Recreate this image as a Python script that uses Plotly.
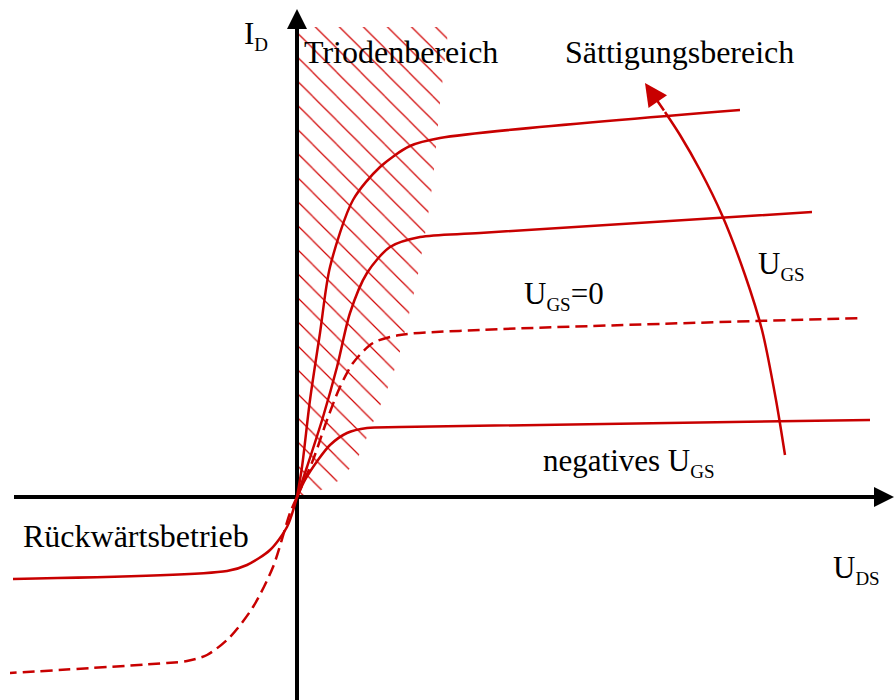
import plotly.graph_objects as go

# Output characteristics of a depletion-mode FET (schematic units)
# Each curve: U_DS values and matching I_D values
top_uds = [0, 0.05, 0.13, 0.23, 0.33, 0.56, 0.83, 1.13, 1.43, 4.43]
top_id = [0, 0.30, 0.97, 1.64, 2.30, 2.97, 3.30, 3.51, 3.59, 3.87]

mid_uds = [0, 0.10, 0.26, 0.40, 0.53, 0.70, 0.93, 1.23, 1.83, 5.15]
mid_id = [0, 0.30, 0.80, 1.30, 1.84, 2.24, 2.50, 2.60, 2.64, 2.85]

zero_uds = [0, 0.16, 0.30, 0.43, 0.56, 0.76, 1.03, 1.83, 5.65]
zero_id = [0, 0.37, 0.77, 1.10, 1.34, 1.54, 1.62, 1.67, 1.79]

neg_uds = [0, 0.08, 0.21, 0.33, 0.50, 0.70, 1.03, 5.73]
neg_id = [0, 0.17, 0.37, 0.52, 0.64, 0.69, 0.70, 0.77]

# Reverse operation (U_DS < 0)
rev_uds = [0, -0.10, -0.27, -0.50, -0.70, -2.84]
rev_id = [0, -0.30, -0.53, -0.68, -0.74, -0.82]

rev0_uds = [0, -0.07, -0.24, -0.44, -0.67, -0.90, -1.10, -1.30, -2.87]
rev0_id = [0, -0.16, -0.70, -1.10, -1.40, -1.58, -1.64, -1.66, -1.76]

# Boundary of the triode (ohmic) region
tri_uds = [0, 0.13, 0.43, 0.60, 0.70, 0.80, 0.90, 1.00, 1.10, 1.20, 1.30, 1.36, 1.43, 1.50, 1.51, 0, 0]
tri_id = [0, 0.01, 0.17, 0.37, 0.60, 0.84, 1.07, 1.34, 1.74, 2.17, 2.74, 3.17, 3.94, 4.55, 4.70, 4.70, 0]

# Increasing U_GS direction arrow (last point is the tip)
arr_uds = [4.88, 4.79, 4.65, 4.48, 4.25, 4.03, 3.83, 3.68, 3.48]
arr_id = [0.42, 0.97, 1.67, 2.22, 2.82, 3.27, 3.62, 3.85, 4.14]

# Axis extents (start, tip)
uds_axis = [-2.83, 5.97]
id_axis = [-2.03, 4.88]

X_RANGE = [-2.97, 5.99]
Y_RANGE = [-2.03, 4.97]

RED = "#c80000"
FONT = "'Liberation Serif', 'Times New Roman', Times, serif"
SUB = "<sub><span style='font-size:19px'>{}</span></sub>"

fig = go.Figure()

# hatched triode region
fig.add_trace(go.Scatter(
    x=tri_uds, y=tri_id, mode="none", fill="toself",
    fillcolor="rgba(0,0,0,0)",
    fillpattern=dict(shape="\\", size=17, solidity=0.07, fgopacity=1,
                     fgcolor="#d00000", bgcolor="rgba(0,0,0,0)"),
    hoverinfo="skip",
))

# coordinate axes (shafts)
fig.add_trace(go.Scatter(x=uds_axis[:1] + [uds_axis[1] - 0.1], y=[0, 0], mode="lines",
                         line=dict(color="black", width=4), hoverinfo="skip"))
fig.add_trace(go.Scatter(x=[0, 0], y=id_axis[:1] + [id_axis[1] - 0.1], mode="lines",
                         line=dict(color="black", width=4), hoverinfo="skip"))

solid = dict(color=RED, width=2.5, shape="spline", smoothing=0.8)
dashed = dict(color=RED, width=2.5, shape="spline", smoothing=0.8, dash="12px,6px")

for xs, ys, ln in [
    (top_uds, top_id, solid),
    (mid_uds, mid_id, solid),
    (zero_uds, zero_id, dashed),
    (neg_uds, neg_id, solid),
    (rev_uds, rev_id, solid),
    (rev0_uds, rev0_id, dashed),
]:
    fig.add_trace(go.Scatter(x=xs, y=ys, mode="lines", line=ln, hoverinfo="skip"))

# U_GS arrow shaft
fig.add_trace(go.Scatter(x=arr_uds[:-1], y=arr_id[:-1], mode="lines", line=solid,
                         hoverinfo="skip"))

# arrowheads
annotations = [
    dict(x=uds_axis[1], y=0, ax=uds_axis[1] - 0.25, ay=0, arrowcolor="black",
         arrowwidth=4, arrowhead=2, arrowsize=1),
    dict(x=0, y=id_axis[1], ax=0, ay=id_axis[1] - 0.3, arrowcolor="black",
         arrowwidth=4, arrowhead=2, arrowsize=1),
    dict(x=arr_uds[-1], y=arr_id[-1], ax=arr_uds[-2], ay=arr_id[-2],
         arrowcolor=RED, arrowwidth=2.5, arrowhead=2, arrowsize=1.8),
]
for a in annotations:
    a.update(xref="x", yref="y", axref="x", ayref="y", text="", showarrow=True)

labels = [
    ("I" + SUB.format("D"), -0.55, 4.62, 31),
    ("Triodenbereich", 0.05, 4.45, 32),
    ("Sättigungsbereich", 2.66, 4.45, 32),
    ("U" + SUB.format("GS"), 4.59, 2.32, 31),
    ("U" + SUB.format("GS") + "=0", 2.25, 2.02, 31),
    ("negatives U" + SUB.format("GS"), 2.44, 0.35, 31),
    ("Rückwärtsbetrieb", -2.76, -0.39, 32),
    ("U" + SUB.format("DS"), 5.34, -0.72, 31),
]
for text, x, y, size in labels:
    annotations.append(dict(
        x=x, y=y, xref="x", yref="y", text=text, showarrow=False,
        xanchor="left", yanchor="middle",
        font=dict(family=FONT, size=size, color="black"),
    ))

fig.update_layout(
    width=896, height=700,
    margin=dict(l=0, r=0, t=0, b=0),
    paper_bgcolor="white", plot_bgcolor="white",
    showlegend=False,
    xaxis=dict(range=X_RANGE, visible=False, fixedrange=True),
    yaxis=dict(range=Y_RANGE, visible=False, fixedrange=True),
    annotations=annotations,
)

fig.write_html("out.html")
